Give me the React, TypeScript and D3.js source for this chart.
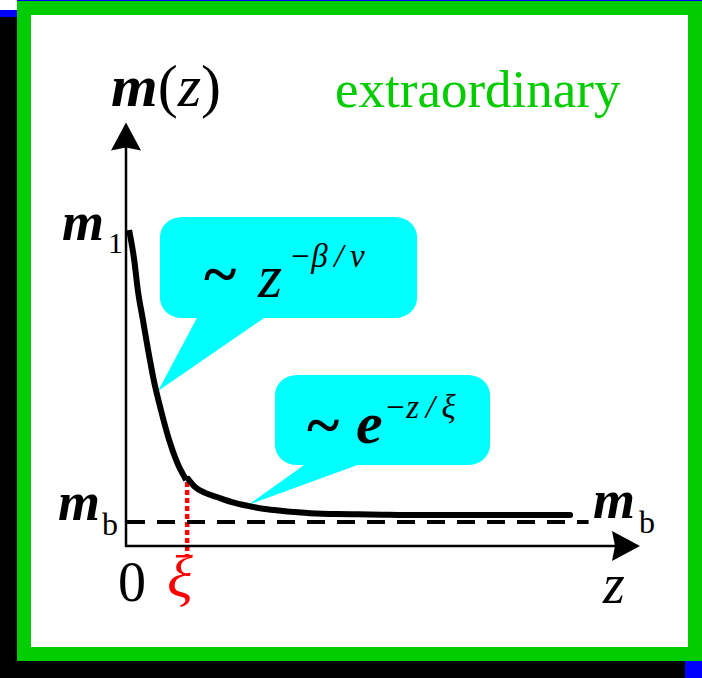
import React from "react";
import * as d3 from "d3";

// Magnetisation profile m(z) near an extraordinary surface.
// Near-surface branch (power law) and far branch (exponential tail).
const zNear = [0.6, 1.6, 2.3, 3.3, 4.3, 5.4, 6.8, 8.4, 9.9, 11.7];
const mNear = [100, 90.5, 81.0, 71.5, 62.0, 52.5, 43.0, 33.5, 26.6, 20.9];
const zFar = [12.1, 13.4, 15.4, 17.7, 20.6, 23.7, 27.0, 30.5, 35.8, 41.0, 47.5, 57.2, 68.9, 86.4];
const mFar = [21.2, 18.7, 16.8, 15.5, 13.9, 12.7, 11.7, 11.1, 10.4, 10.1, 10.0, 9.8, 9.8, 9.8];

const M_BULK = 7.6; // m_b
const XI = 11.9; // correlation length
const Z_AXIS_END = 100;
const M_AXIS_END = 134;
const BULK_LINE_END = 90;

const W = 702;
const H = 678;

const SERIF = "'Liberation Serif', 'Times New Roman', Times, serif";

export default function App() {
  const x = d3.scaleLinear().domain([0, 100]).range([126, 640]);
  const y = d3.scaleLinear().domain([0, 100]).range([546, 230]);

  const line = d3
    .line<[number, number]>()
    .x((d) => x(d[0]))
    .y((d) => y(d[1]))
    .curve(d3.curveMonotoneX);

  const nearPts = zNear.map((z, i) => [z, mNear[i]] as [number, number]);
  const farPts = zFar.map((z, i) => [z, mFar[i]] as [number, number]);

  const x0 = x(0);
  const y0 = y(0);
  const yTip = y(M_AXIS_END);
  const xTip = x(Z_AXIS_END);

  const bubble = (
    rx0: number,
    ry0: number,
    rx1: number,
    ry1: number,
    r: number,
    tail: [number, number][]
  ) => (
    <g>
      <rect x={rx0} y={ry0} width={rx1 - rx0} height={ry1 - ry0} rx={r} ry={r * 0.9} fill="#00ffff" />
      <polygon points={tail.map((p) => p.join(",")).join(" ")} fill="#00ffff" />
    </g>
  );

  return (
    <svg
      width={W}
      height={H}
      viewBox={`0 0 ${W} ${H}`}
      style={{ position: "absolute", left: 0, top: 0, display: "block" }}
    >
      {/* frame */}
      <rect x={0} y={0} width={W} height={H} fill="#000" />
      <rect x={0} y={0} width={17} height={10} fill="#fff" />
      <rect x={0} y={10} width={17} height={7} fill="#0000ff" />
      <rect x={17} y={0} width={W - 17} height={1} fill="#0000ff" />
      <rect x={685} y={661} width={17} height={17} fill="#0000ff" />
      <rect x={17} y={1} width={W - 17} height={660} fill="#00cc00" />
      <rect x={31} y={15} width={657} height={632} fill="#fff" />

      {/* callouts */}
      {bubble(160, 217, 417, 318, 22, [
        [198, 316],
        [267, 316],
        [158, 391],
      ])}
      {bubble(275, 375, 490, 465, 22, [
        [307, 463],
        [363, 463],
        [248, 505],
      ])}

      {/* correlation length marker */}
      <line
        x1={x(XI)}
        x2={x(XI)}
        y1={482}
        y2={556}
        stroke="#ff0000"
        strokeWidth={4.5}
        strokeDasharray="5 3"
      />

      {/* bulk value */}
      <line
        x1={x(0) + 1}
        x2={x(BULK_LINE_END)}
        y1={y(M_BULK)}
        y2={y(M_BULK)}
        stroke="#000"
        strokeWidth={4}
        strokeDasharray="18 12"
      />

      {/* profile */}
      <path d={line(nearPts) || ""} fill="none" stroke="#000" strokeWidth={6} />
      <path d={line(farPts) || ""} fill="none" stroke="#000" strokeWidth={6} strokeLinecap="round" />

      {/* axes */}
      <line x1={x0} x2={x0} y1={y0 + 1} y2={yTip + 20} stroke="#000" strokeWidth={2.5} />
      <line x1={x0 - 1} x2={xTip - 20} y1={y0} y2={y0} stroke="#000" strokeWidth={2.5} />
      <polygon
        points={`${x0},${yTip} ${x0 + 15},${yTip + 28} ${x0},${yTip + 25} ${x0 - 15},${yTip + 28}`}
        fill="#000"
      />
      <polygon
        points={`${xTip},${y0} ${xTip - 28},${y0 + 15} ${xTip - 25},${y0} ${xTip - 28},${y0 - 15}`}
        fill="#000"
      />

      <g fontFamily={SERIF} fill="#000">
        {/* axis titles */}
        <text x={111} y={106} fontSize={60}>
          <tspan fontStyle="italic" fontWeight="bold">m</tspan>
          <tspan>(</tspan>
          <tspan fontStyle="italic">z</tspan>
          <tspan>)</tspan>
        </text>
        <text x={603} y={603} fontSize={56} fontStyle="italic">z</text>
        <text x={118} y={601} fontSize={56}>0</text>
        <text x={167} y={597} fontSize={60} fontStyle="italic" fill="#ff0000">ξ</text>

        {/* m_1 */}
        <text x={62} y={240} fontSize={54} fontStyle="italic" fontWeight="bold">m</text>
        <text x={108} y={253} fontSize={30}>1</text>
        {/* m_b left */}
        <text x={58} y={520} fontSize={54} fontStyle="italic" fontWeight="bold">m</text>
        <text x={102} y={535} fontSize={32}>b</text>
        {/* m_b right */}
        <text x={593} y={518} fontSize={54} fontStyle="italic" fontWeight="bold">m</text>
        <text x={639} y={533} fontSize={32}>b</text>

        {/* callout formulas */}
        <text x={204} y={294} fontSize={62} fontWeight="bold">~</text>
        <text x={258} y={297} fontSize={62} fontStyle="italic">z</text>
        <text x={289} y={267} fontSize={33} fontStyle="italic">{"−β\u2009/\u2009ν"}</text>

        <text x={307} y={445} fontSize={62} fontWeight="bold">~</text>
        <text x={356} y={443} fontSize={60} fontStyle="italic" fontWeight="bold">e</text>
        <text x={384} y={418} fontSize={33} fontStyle="italic">{"−z\u2009/\u2009ξ"}</text>

        <text x={335} y={107} fontSize={53} fill="#00cc00">extraordinary</text>
      </g>
    </svg>
  );
}
